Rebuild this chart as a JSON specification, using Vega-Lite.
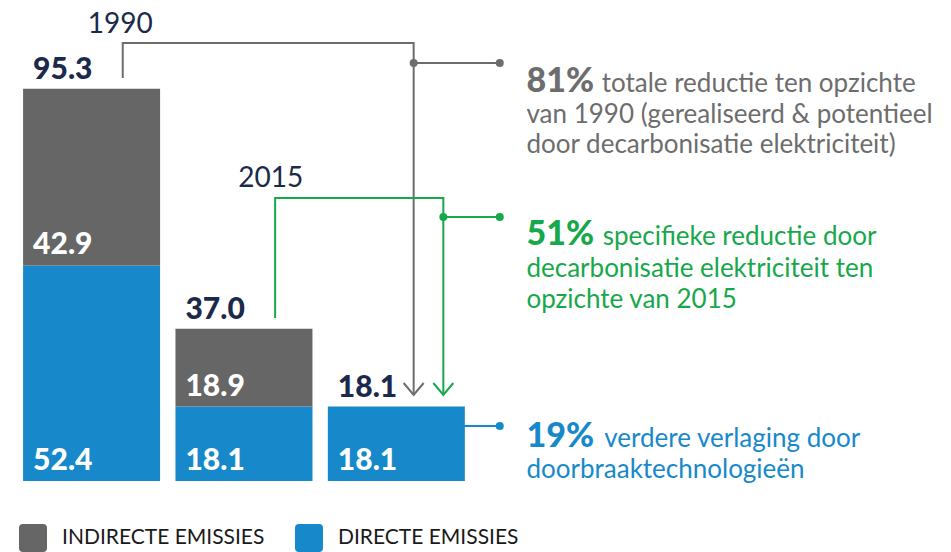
{
  "$schema": "https://vega.github.io/schema/vega-lite/v6.json",
  "width": 951,
  "height": 552,
  "autosize": "none",
  "padding": 0,
  "background": "white",
  "config": {"view": {"stroke": null}, "font": "Lato"},
  "datasets": {
    "emissies": [
      {"jaar": "1990", "slot": 0, "soort": "DIRECTE EMISSIES", "waarde": 52.4},
      {"jaar": "1990", "slot": 0, "soort": "INDIRECTE EMISSIES", "waarde": 42.9},
      {"jaar": "2015", "slot": 1, "soort": "DIRECTE EMISSIES", "waarde": 18.1},
      {"jaar": "2015", "slot": 1, "soort": "INDIRECTE EMISSIES", "waarde": 18.9},
      {"jaar": "potentieel", "slot": 2, "soort": "DIRECTE EMISSIES", "waarde": 18.1}
    ],
    "lijnen": [
      {"groep": "a", "reeks": "totaal", "volg": 1, "x": 0.2045, "y": 97.93},
      {"groep": "a", "reeks": "totaal", "volg": 2, "x": 0.2045, "y": 106.44},
      {"groep": "a", "reeks": "totaal", "volg": 3, "x": 2.1136, "y": 106.44},
      {"groep": "a", "reeks": "totaal", "volg": 4, "x": 2.1136, "y": 20.9},
      {"groep": "b", "reeks": "totaal", "volg": 1, "x": 2.1136, "y": 101.58},
      {"groep": "b", "reeks": "totaal", "volg": 2, "x": 2.6786, "y": 101.58},
      {"groep": "c", "reeks": "elektriciteit", "volg": 1, "x": 1.2045, "y": 39.61},
      {"groep": "c", "reeks": "elektriciteit", "volg": 2, "x": 1.2045, "y": 68.77},
      {"groep": "c", "reeks": "elektriciteit", "volg": 3, "x": 2.3084, "y": 68.77},
      {"groep": "c", "reeks": "elektriciteit", "volg": 4, "x": 2.3084, "y": 20.9},
      {"groep": "d", "reeks": "elektriciteit", "volg": 1, "x": 2.3084, "y": 64.16},
      {"groep": "d", "reeks": "elektriciteit", "volg": 2, "x": 2.6786, "y": 64.16},
      {"groep": "e", "reeks": "doorbraak", "volg": 1, "x": 2.4448, "y": 13.37},
      {"groep": "e", "reeks": "doorbraak", "volg": 2, "x": 2.6786, "y": 13.37}
    ],
    "punten": [
      {"reeks": "totaal", "x": 2.1136, "y": 101.58},
      {"reeks": "totaal", "x": 2.6786, "y": 101.58},
      {"reeks": "elektriciteit", "x": 2.3084, "y": 64.16},
      {"reeks": "elektriciteit", "x": 2.6786, "y": 64.16},
      {"reeks": "doorbraak", "x": 2.6786, "y": 13.37}
    ],
    "pijlen": [
      {"reeks": "totaal", "x": 2.1136, "y": 20.9},
      {"reeks": "elektriciteit", "x": 2.3084, "y": 20.9}
    ],
    "jaren": [
      {"tekst": "1990", "x": 0.1883, "y": 108.87},
      {"tekst": "2015", "x": 1.1753, "y": 71.45}
    ],
    "procenten": [
      {"reeks": "totaal", "tekst": "81%", "x": 2.854, "y": 94.5},
      {"reeks": "elektriciteit", "tekst": "51%", "x": 2.854, "y": 57.35},
      {"reeks": "doorbraak", "tekst": "19%", "x": 2.854, "y": 8.26}
    ],
    "toelichting": [
      {"reeks": "totaal", "tekst": "totale reductie ten opzichte", "x": 3.3474, "y": 94.5},
      {"reeks": "totaal", "tekst": "van 1990 (gerealiseerd & potentieel", "x": 2.854, "y": 87.0},
      {"reeks": "totaal", "tekst": "door decarbonisatie elektriciteit)", "x": 2.854, "y": 79.6},
      {"reeks": "elektriciteit", "tekst": "specifieke reductie door", "x": 3.354, "y": 57.35},
      {"reeks": "elektriciteit", "tekst": "decarbonisatie elektriciteit ten", "x": 2.854, "y": 49.65},
      {"reeks": "elektriciteit", "tekst": "opzichte van 2015", "x": 2.854, "y": 41.97},
      {"reeks": "doorbraak", "tekst": "verdere verlaging door", "x": 3.364, "y": 8.26},
      {"reeks": "doorbraak", "tekst": "doorbraaktechnologieën", "x": 2.854, "y": 0.73}
    ]
  },
  "layer": [
    {
      "data": {"name": "emissies"},
      "transform": [{"stack": "waarde", "groupby": ["slot"], "sort": [{"field": "soort", "order": "ascending"}], "as": ["v0", "v1"]}],
      "mark": {"type": "bar", "width": 137},
      "encoding": {
        "x": {"field": "slot", "type": "quantitative", "scale": {"type": "linear", "domain": [-0.5682, 5.6071], "nice": false, "zero": false}, "axis": null},
        "y": {"field": "v0", "type": "quantitative", "scale": {"type": "linear", "domain": [-17.254, 116.89], "nice": false, "zero": false}, "axis": null},
        "y2": {"field": "v1"},
        "color": {
          "field": "soort", "type": "nominal",
          "scale": {"domain": ["INDIRECTE EMISSIES", "DIRECTE EMISSIES"], "range": ["#666666", "#1789ca"]},
          "legend": {
            "orient": "none", "legendX": 19, "legendY": 524, "direction": "horizontal", "title": null,
            "symbolType": "M-0.72,-1H0.72Q1,-1 1,-0.72V0.72Q1,1 0.72,1H-0.72Q-1,1 -1,0.72V-0.72Q-1,-1 -0.72,-1Z",
            "symbolSize": 784, "symbolStrokeWidth": 0, "symbolOpacity": 1,
            "labelFont": "Lato", "labelFontSize": 21, "labelColor": "#1a1a1a", "labelLimit": 500,
            "labelOffset": 15, "columnPadding": 30, "padding": 0
          }
        }
      }
    },
    {
      "data": {"name": "emissies"},
      "transform": [{"stack": "waarde", "groupby": ["slot"], "sort": [{"field": "soort", "order": "ascending"}], "as": ["v0", "v1"]}],
      "mark": {"type": "text", "align": "left", "baseline": "alphabetic", "dx": -58.5, "dy": -11, "font": "Lato", "fontWeight": 900, "fontSize": 30, "color": "white"},
      "encoding": {
        "x": {"field": "slot", "type": "quantitative", "scale": {"type": "linear", "domain": [-0.5682, 5.6071], "nice": false, "zero": false}, "axis": null},
        "y": {"field": "v0", "type": "quantitative", "scale": {"type": "linear", "domain": [-17.254, 116.89], "nice": false, "zero": false}, "axis": null},
        "text": {"field": "waarde", "type": "quantitative", "format": ".1f"}
      }
    },
    {
      "data": {"name": "emissies"},
      "transform": [{"aggregate": [{"op": "sum", "field": "waarde", "as": "totaal"}], "groupby": ["slot"]}],
      "mark": {"type": "text", "align": "left", "baseline": "alphabetic", "dx": -58.5, "dy": -10, "font": "Lato", "fontWeight": 900, "fontSize": 30, "color": "#1b2a4b"},
      "encoding": {
        "x": {"field": "slot", "type": "quantitative", "scale": {"type": "linear", "domain": [-0.5682, 5.6071], "nice": false, "zero": false}, "axis": null},
        "y": {"field": "totaal", "type": "quantitative", "scale": {"type": "linear", "domain": [-17.254, 116.89], "nice": false, "zero": false}, "axis": null},
        "text": {"field": "totaal", "type": "quantitative", "format": ".1f"}
      }
    },
    {
      "data": {"name": "lijnen"},
      "mark": {"type": "line", "strokeWidth": 2, "interpolate": "linear"},
      "encoding": {
        "x": {"field": "x", "type": "quantitative", "scale": {"type": "linear", "domain": [-0.5682, 5.6071], "nice": false, "zero": false}, "axis": null},
        "y": {"field": "y", "type": "quantitative", "scale": {"type": "linear", "domain": [-17.254, 116.89], "nice": false, "zero": false}, "axis": null},
        "detail": {"field": "groep", "type": "nominal"},
        "order": {"field": "volg", "type": "quantitative"},
        "stroke": {"field": "reeks", "type": "nominal", "scale": {"domain": ["totaal", "elektriciteit", "doorbraak"], "range": ["#6d6d6d", "#17a84b", "#1789ca"]}, "legend": null}
      }
    },
    {
      "data": {"name": "punten"},
      "mark": {"type": "point", "shape": "circle", "filled": true, "size": 64, "opacity": 1, "strokeWidth": 0},
      "encoding": {
        "x": {"field": "x", "type": "quantitative", "scale": {"type": "linear", "domain": [-0.5682, 5.6071], "nice": false, "zero": false}, "axis": null},
        "y": {"field": "y", "type": "quantitative", "scale": {"type": "linear", "domain": [-17.254, 116.89], "nice": false, "zero": false}, "axis": null},
        "fill": {"field": "reeks", "type": "nominal", "scale": {"domain": ["totaal", "elektriciteit", "doorbraak"], "range": ["#6d6d6d", "#17a84b", "#1789ca"]}, "legend": null}
      }
    },
    {
      "data": {"name": "pijlen"},
      "mark": {"type": "point", "shape": "M-1,-1.2L0,0L1,-1.2", "filled": false, "size": 400, "strokeWidth": 2, "opacity": 1},
      "encoding": {
        "x": {"field": "x", "type": "quantitative", "scale": {"type": "linear", "domain": [-0.5682, 5.6071], "nice": false, "zero": false}, "axis": null},
        "y": {"field": "y", "type": "quantitative", "scale": {"type": "linear", "domain": [-17.254, 116.89], "nice": false, "zero": false}, "axis": null},
        "stroke": {"field": "reeks", "type": "nominal", "scale": {"domain": ["totaal", "elektriciteit", "doorbraak"], "range": ["#6d6d6d", "#17a84b", "#1789ca"]}, "legend": null}
      }
    },
    {
      "data": {"name": "jaren"},
      "mark": {"type": "text", "align": "center", "baseline": "alphabetic", "font": "Lato", "fontSize": 28, "color": "#1b2a4b"},
      "encoding": {
        "x": {"field": "x", "type": "quantitative", "scale": {"type": "linear", "domain": [-0.5682, 5.6071], "nice": false, "zero": false}, "axis": null},
        "y": {"field": "y", "type": "quantitative", "scale": {"type": "linear", "domain": [-17.254, 116.89], "nice": false, "zero": false}, "axis": null},
        "text": {"field": "tekst", "type": "nominal"}
      }
    },
    {
      "data": {"name": "procenten"},
      "mark": {"type": "text", "align": "left", "baseline": "alphabetic", "font": "Lato", "fontWeight": 900, "fontSize": 34},
      "encoding": {
        "x": {"field": "x", "type": "quantitative", "scale": {"type": "linear", "domain": [-0.5682, 5.6071], "nice": false, "zero": false}, "axis": null},
        "y": {"field": "y", "type": "quantitative", "scale": {"type": "linear", "domain": [-17.254, 116.89], "nice": false, "zero": false}, "axis": null},
        "text": {"field": "tekst", "type": "nominal"},
        "fill": {"field": "reeks", "type": "nominal", "scale": {"domain": ["totaal", "elektriciteit", "doorbraak"], "range": ["#6d6d6d", "#17a84b", "#1789ca"]}, "legend": null}
      }
    },
    {
      "data": {"name": "toelichting"},
      "mark": {"type": "text", "align": "left", "baseline": "alphabetic", "font": "Lato", "fontSize": 26},
      "encoding": {
        "x": {"field": "x", "type": "quantitative", "scale": {"type": "linear", "domain": [-0.5682, 5.6071], "nice": false, "zero": false}, "axis": null},
        "y": {"field": "y", "type": "quantitative", "scale": {"type": "linear", "domain": [-17.254, 116.89], "nice": false, "zero": false}, "axis": null},
        "text": {"field": "tekst", "type": "nominal"},
        "fill": {"field": "reeks", "type": "nominal", "scale": {"domain": ["totaal", "elektriciteit", "doorbraak"], "range": ["#6d6d6d", "#17a84b", "#1789ca"]}, "legend": null}
      }
    }
  ]
}
